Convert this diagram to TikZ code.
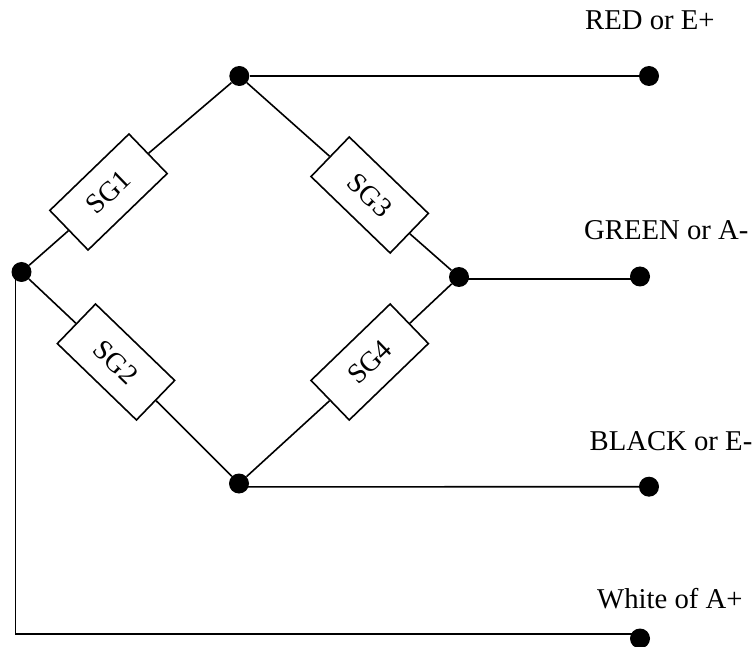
\documentclass[tikz,border=0pt]{standalone}
\usepackage{fontspec}
\setmainfont{Liberation Serif}
\begin{document}
\begin{tikzpicture}[x=1pt,y=-1pt,
  dot/.style={circle,fill=black,draw=none,minimum size=20pt,inner sep=0pt},
  gauge/.style={draw=black,fill=white,line width=1.6pt,minimum width=110pt,minimum height=55pt,inner sep=0pt,font=\fontsize{28}{28}\selectfont},
  wire/.style={draw=black,line width=1.6pt},
  lab/.style={anchor=base west,inner sep=0pt,font=\fontsize{28.7}{29}\selectfont}]
\path[use as bounding box,clip] (0,0) rectangle (756,647);
\node[dot] (a) at (239.3,76) {};
\node[dot] (l) at (21.5,272) {};
\node[dot] (r) at (459,277) {};
\node[dot] (b) at (239,483.5) {};
\node[dot] (o1) at (649,76) {};
\node[dot] (o2) at (640,276.5) {};
\node[dot] (o3) at (649,486.7) {};
\node[dot] (o4) at (640,638.5) {};
\node[gauge,rotate=44] (sg1) at (108.5,192) {SG1};
\node[gauge,rotate=-44] (sg2) at (116,362) {SG2};
\node[gauge,rotate=-44] (sg3) at (369.7,195) {SG3};
\node[gauge,rotate=44] (sg4) at (369.7,362) {SG4};
\coordinate (c) at (15.5,634);
\coordinate (c0) at (15.5,272);
\coordinate (c1) at (632,634);
\draw[wire] (l) -- (sg1.west);
\draw[wire] (sg1.east) -- (a);
\draw[wire] (a) -- (sg3.west);
\draw[wire] (sg3.east) -- (r);
\draw[wire] (r) -- (sg4.east);
\draw[wire] (sg4.west) -- (b);
\draw[wire] (b) -- (sg2.east);
\draw[wire] (sg2.west) -- (l);
\draw[wire] (a) -- (o1);
\draw[wire] ([yshift=-2.3pt]r.center) -- ([yshift=-2.8pt]o2.center);
\draw[wire] ([yshift=-3.4pt]b.center) -- (o3);
\draw[wire] (c0) -- (c) -- (c1);
\node[lab] (t1) at (585,29.3) {RED or E+};
\node[lab] (t2) at (584,240) {GREEN or A-};
\node[lab] (t3) at (589.5,450.7) {BLACK or E-};
\node[lab] (t4) at (597,608) {White of A+};
\end{tikzpicture}
\end{document}
